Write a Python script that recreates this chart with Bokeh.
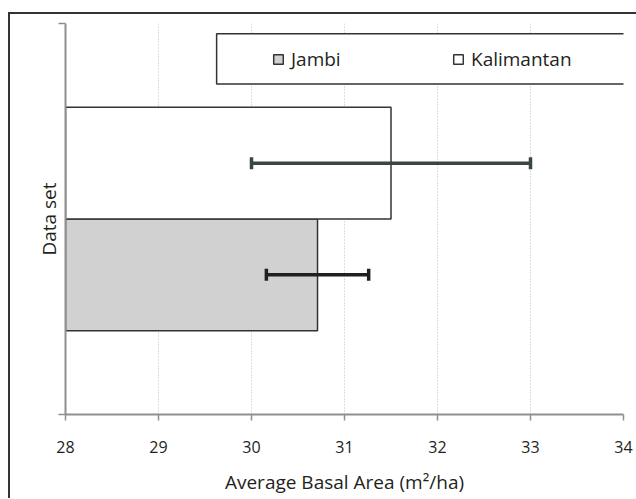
from bokeh.plotting import figure
from bokeh.models import (ColumnDataSource, Whisker, TeeHead, Legend, LegendItem,
                          BoxAnnotation, FixedTicker)
from bokeh.embed import file_html
from bokeh.resources import INLINE

# ---- data ----
series = ["Jambi", "Kalimantan"]
means = [30.71, 31.50]
errors = [0.55, 1.50]
x_ticks = [28, 29, 30, 31, 32, 33, 34]
axis_min = 28
axis_max = 34

# ---- styles ----
fills = ["#d1d1d1", "#ffffff"]
err_colors = ["#231f20", "#3b4545"]
gap_width = 0.75
FONT = "Open Sans"
TXT = "#231f20"
AX = "#8f8f8f"

n = len(series)
bar_h = 1.0 / (1.0 + gap_width) / n
ys = [0.5 - bar_h * n / 2 + bar_h * (i + 0.5) for i in range(n)]

p = figure(frame_width=558, frame_height=391,
           x_range=(axis_min, axis_max), y_range=(0, 1),
           output_backend="svg", toolbar_location=None,
           min_border_left=55, min_border_right=13, min_border_top=9, min_border_bottom=84)
p.title = None
# outer chart frame: only its top and left edges fall inside the window
p.styles = {"border-top": "2px solid #333333", "border-left": "2px solid #333333",
            "margin-top": "12px", "margin-left": "8px"}
p.outline_line_color = None
p.background_fill_color = "white"
p.border_fill_color = "white"

# grid
p.ygrid.visible = False
p.xgrid.grid_line_color = "#bdbdbd"
p.xgrid.grid_line_dash = "1 2"
p.xgrid.grid_line_width = 1

# bars
renderers = []
for i in range(n):
    src = ColumnDataSource(dict(y=[ys[i]], left=[axis_min], right=[means[i]]))
    r = p.hbar(y="y", left="left", right="right", height=bar_h, source=src,
               fill_color=fills[i], line_color="#333333", line_width=1.5)
    renderers.append(r)

# error bars
for i in range(n):
    esrc = ColumnDataSource(dict(base=[ys[i]], lower=[means[i] - errors[i]],
                                 upper=[means[i] + errors[i]]))
    w = Whisker(source=esrc, base="base", lower="lower", upper="upper", dimension="width",
                level="annotation",
                line_color=err_colors[i], line_width=3.5,
                upper_head=TeeHead(size=12, line_width=3.5, line_color=err_colors[i]),
                lower_head=TeeHead(size=12, line_width=3.5, line_color=err_colors[i]))
    p.add_layout(w)

# axes
xa = p.xaxis[0]
xa.ticker = FixedTicker(ticks=x_ticks)
xa.axis_line_color = AX
xa.axis_line_width = 2
xa.major_tick_line_color = AX
xa.major_tick_line_width = 1.5
xa.major_tick_out = 6
xa.major_tick_in = 0
xa.minor_tick_line_color = None
xa.major_label_text_font = FONT
xa.major_label_text_font_size = "16px"
xa.major_label_text_color = TXT
xa.major_label_standoff = 20
xa.axis_label = "Average Basal Area (m²/ha)"
xa.axis_label_text_font = FONT
xa.axis_label_text_font_size = "19px"
xa.axis_label_text_font_style = "normal"
xa.axis_label_text_color = TXT
xa.axis_label_standoff = 13

ya = p.yaxis[0]
# end ticks only, drawn as minor ticks so no tick labels are produced
ya.ticker = FixedTicker(ticks=[], minor_ticks=[0, 1])
ya.axis_line_color = AX
ya.axis_line_width = 2
ya.major_tick_line_color = None
ya.minor_tick_line_color = AX
ya.minor_tick_line_width = 1.5
ya.minor_tick_out = 7
ya.minor_tick_in = 0
ya.major_label_standoff = 0
ya.axis_label = "Data set"
ya.axis_label_text_font = FONT
ya.axis_label_text_font_size = "19px"
ya.axis_label_text_font_style = "normal"
ya.axis_label_text_color = TXT
ya.axis_label_standoff = -3

# legend frame
box = BoxAnnotation(left=29.625, right=34.04, bottom=0.845, top=0.974,
                    fill_color="white", fill_alpha=1.0,
                    line_color="#333333", line_width=1.5, line_alpha=1.0)
p.add_layout(box)

legend = Legend(items=[LegendItem(label=series[i], renderers=[renderers[i]]) for i in range(n)],
                orientation="horizontal", location=(202, 337),
                border_line_alpha=0, background_fill_alpha=0,
                glyph_width=12, glyph_height=12, label_standoff=7,
                label_width=150, spacing=11, padding=5, margin=0,
                label_text_font=FONT, label_text_font_size="19px",
                label_text_color=TXT)
p.add_layout(legend)

open("out.html", "w").write(file_html(p, INLINE))
